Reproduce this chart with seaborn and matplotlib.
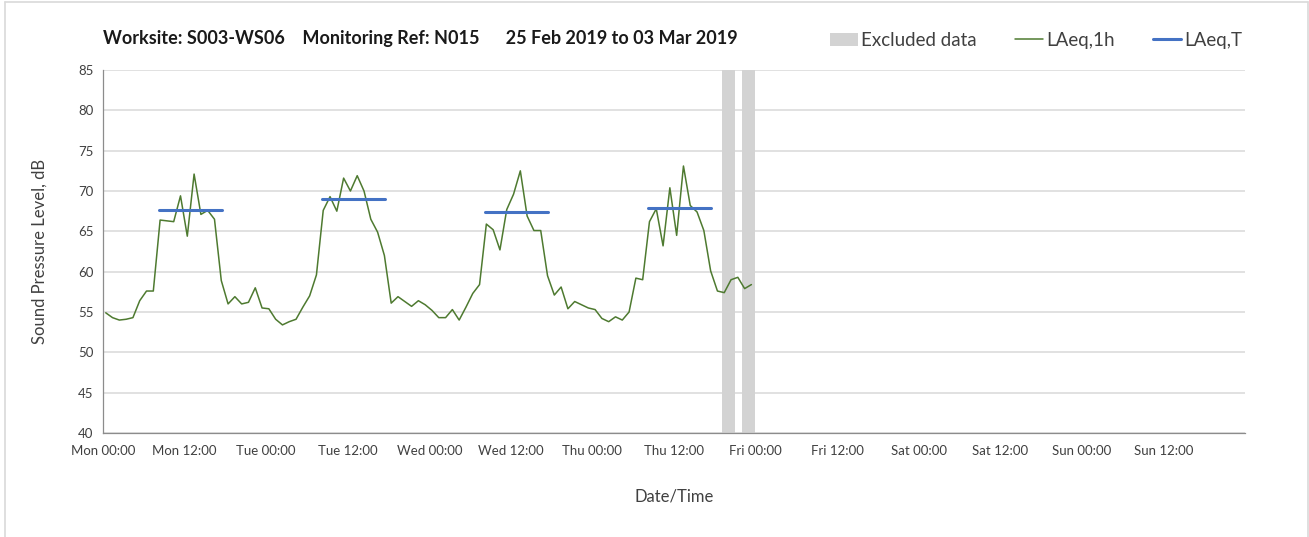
import pandas as pd
import seaborn as sns
import matplotlib.pyplot as plt
from matplotlib.lines import Line2D
from matplotlib.patches import Patch

# hourly LAeq,1h values (dB) read per day, hours 00..23
mon = [54.9, 54.3, 54.0, 54.1, 54.3, 56.4, 57.6, 57.6, 66.4, 66.3, 66.2, 69.4,
       64.4, 72.1, 67.1, 67.6, 66.5, 58.9, 56.0, 56.9, 56.0, 56.2, 58.0, 55.5]
tue = [55.4, 54.1, 53.4, 53.8, 54.1, 55.6, 57.0, 59.6, 67.6, 69.3, 67.5, 71.6,
       70.0, 71.9, 70.0, 66.5, 64.9, 62.0, 56.1, 56.9, 56.3, 55.7, 56.4, 55.9]
wed = [55.2, 54.3, 54.3, 55.3, 54.0, 55.6, 57.3, 58.4, 65.9, 65.2, 62.7, 67.7,
       69.6, 72.5, 66.9, 65.1, 65.1, 59.5, 57.1, 58.1, 55.4, 56.3, 55.9, 55.5]
thu = [55.3, 54.2, 53.8, 54.4, 54.0, 55.0, 59.2, 59.0, 66.2, 67.8, 63.2, 70.4,
       64.5, 73.1, 68.2, 67.4, 65.1, 60.1, 57.6, 57.4, 59.0, 59.3, 57.9, 58.4]

# LAeq,T over each daytime period (hours from Mon 00:00)
period_start = [8.25, 32.25, 56.25, 80.25]
period_end = [17.5, 41.5, 65.5, 89.5]
laeq_t = [67.7, 69.0, 67.4, 67.9]

# excluded periods (hours from Mon 00:00)
excl_start = [91, 94]
excl_end = [93, 96]

tick_labels = ['Mon 00:00', 'Mon 12:00', 'Tue 00:00', 'Tue 12:00', 'Wed 00:00', 'Wed 12:00',
               'Thu 00:00', 'Thu 12:00', 'Fri 00:00', 'Fri 12:00', 'Sat 00:00', 'Sat 12:00',
               'Sun 00:00', 'Sun 12:00']

green = '#4e7a30'
blue = '#4472c4'
grey = '#d3d3d3'

values = mon + tue + wed + thu
hourly = pd.DataFrame({'hour': [h + 0.4 for h in range(len(values))], 'level': values})

rows = []
for i, (s, e, v) in enumerate(zip(period_start, period_end, laeq_t)):
    rows.append({'period': i, 'hour': s, 'level': v})
    rows.append({'period': i, 'hour': e, 'level': v})
periods = pd.DataFrame(rows)

sns.set_theme(style='white')
plt.rcParams['font.family'] = ['Lato', 'DejaVu Sans']

fig = plt.figure(figsize=(13.09, 5.37), dpi=100)
ax = fig.add_axes([0.0787, 0.1937, 0.8723, 0.6759])

for s, e in zip(excl_start, excl_end):
    ax.axvspan(s, e, color=grey, lw=0, zorder=1)

sns.lineplot(data=hourly, x='hour', y='level', color=green, lw=1.1, ax=ax, zorder=3)
sns.lineplot(data=periods, x='hour', y='level', units='period', estimator=None,
             color=blue, lw=2.2, ax=ax, zorder=4)

ax.set_xlim(0, 168)
ax.set_ylim(40, 85)
ax.set_xticks(range(0, 169, 12))
ax.set_xticklabels(tick_labels + [''])
ax.set_xticks(range(0, 169, 24), minor=True)
ax.set_yticks(range(40, 86, 5))
ax.grid(False)
ax.xaxis.grid(True, which='minor', color='#d9d9d9', lw=1.1)
ax.yaxis.grid(True, which='major', color='#d9d9d9', lw=1.1)
ax.set_axisbelow(True)
ax.tick_params(axis='x', which='minor', length=0)
ax.tick_params(axis='both', which='major', length=4, width=0.8, color='#8c8c8c',
               labelsize=9.5, labelcolor='#404040', direction='out', pad=5)
ax.tick_params(axis='y', pad=3)
for side in ['top', 'right']:
    ax.spines[side].set_visible(False)
for side in ['left', 'bottom']:
    ax.spines[side].set_color('#8c8c8c')
    ax.spines[side].set_linewidth(0.9)

ax.set_xlabel('Date/Time', fontsize=12, color='#404040', labelpad=22)
ax.set_ylabel('Sound Pressure Level, dB', fontsize=12, color='#404040', labelpad=22)

fig.text(0.0787, 0.928, 'Worksite: S003-WS06    Monitoring Ref: N015      25 Feb 2019 to 03 Mar 2019',
         fontsize=13, fontweight='bold', color='#1a1a1a', va='center')

handles = [Patch(facecolor=grey, edgecolor='none'),
           Line2D([], [], color=green, lw=1.1),
           Line2D([], [], color=blue, lw=2.2)]
fig.legend(handles, ['Excluded data', 'LAeq,1h', 'LAeq,T'], ncol=3, frameon=False,
           loc='center right', bbox_to_anchor=(0.962, 0.925), fontsize=13.5,
           handlelength=1.5, handletextpad=0.2, columnspacing=2.0,
           labelcolor='#404040')

# outer chart border
border = dict(color='#d9d9d9', lw=1.2, transform=fig.transFigure)
fig.add_artist(Line2D([0.004, 0.004], [0, 0.996], **border))
fig.add_artist(Line2D([0.004, 0.999], [0.996, 0.996], **border))
fig.add_artist(Line2D([0.999, 0.999], [0, 0.996], **border))

fig.savefig('out.png', dpi=100)
